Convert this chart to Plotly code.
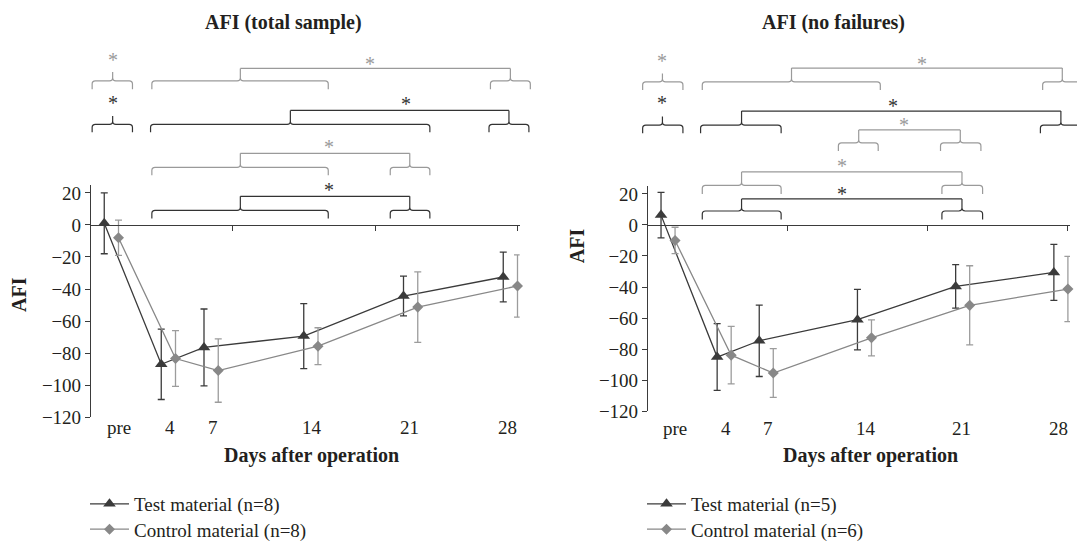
import plotly.graph_objects as go

W, H = 1077, 554
FONT = "Liberation Serif"
TXT = "#231f20"
DARK = "#3b3b3b"
GRAY = "#888888"
GRAY_ERR = "#9c9c9c"
BR_GRAY = "#9a9a9a"
BR_DARK = "#333333"

# ---------------- data ----------------
days = [0, 4, 7, 14, 21, 28]
tick_labels = ["pre", "4", "7", "14", "21", "28"]
label_pos = [0, 3.6, 6.6, 13.6, 20.4, 27.3]
test_shift = -1          # test group plotted one day left of control
y_ticks = [-120, -100, -80, -60, -40, -20, 0, 20]

# AFI (total sample)
test_total_mean = [1, -87, -76.5, -69.4, -44.4, -32.5]
test_total_err = [19, 22, 24, 20.3, 12.4, 15.5]
ctrl_total_mean = [-8, -83.4, -90.9, -75.7, -51.3, -38.1]
ctrl_total_err = [11, 17.4, 19.8, 11.5, 22, 19.4]

# AFI (no failures)
test_nf_mean = [6.3, -85.1, -74.6, -61, -39.6, -30.6]
test_nf_err = [14.7, 21.5, 23, 19.5, 14, 18]
ctrl_nf_mean = [-10, -83.9, -95.4, -72.7, -51.8, -41.3]
ctrl_nf_err = [8.5, 18.5, 15.7, 11.6, 25.5, 21]

# significance brackets: (colour, horizontal y px, leg-bottom y px, notch top y px,
#                          [(x0, x1, peak) in days], star (day, y px))
brackets_total = [
    ("g", 80.7, 89.3, 71.7, [(-1.85, 0.98, -0.41)], (-0.41, 55)),
    ("g", 80.7, 89.3, 68.0, [(2.34, 14.72, 8.55), (26.1, 28.9, 27.5)], (17.65, 59)),
    ("k", 125.3, 133.3, 116.7, [(-1.85, 0.98, -0.41)], (-0.41, 99)),
    ("k", 125.3, 133.3, 111.0, [(2.25, 21.85, 12.06), (26.0, 28.8, 27.4)], (20.2, 100)),
    ("g", 169.3, 177.3, 155.0, [(2.34, 14.72, 8.55), (19.07, 21.85, 20.44)], (14.8, 144)),
    ("k", 213.3, 221.7, 199.0, [(2.34, 14.72, 8.55), (19.07, 21.85, 20.44)], (14.8, 188.3)),
]
brackets_nf = [
    ("g", 81.7, 90.0, 73.3, [(-2.31, 0.56, -0.9)], (-0.9, 56)),
    ("g", 81.7, 90.0, 67.7, [(1.94, 14.63, 8.3), (26.2, 29.0, 27.6)], (17.58, 59.3)),
    ("k", 126.0, 134.3, 117.3, [(-2.31, 0.56, -0.9)], (-0.9, 99)),
    ("k", 126.0, 134.3, 111.7, [(1.82, 7.56, 4.74), (26.04, 28.9, 27.5)], (15.54, 102.7)),
    ("g", 144.3, 152.7, 131.0, [(11.64, 14.48, 13.09), (18.92, 21.8, 20.33)], (16.3, 122.3)),
    ("g", 187.7, 196.7, 174.0, [(1.94, 7.56, 4.74), (19.02, 21.92, 20.45)], (11.9, 164.3)),
    ("k", 214.0, 222.7, 201.7, [(1.94, 7.56, 4.74), (19.02, 21.92, 20.45)], (11.9, 192.3)),
]

panels = [
    dict(title="AFI (total sample)", tm=test_total_mean, te=test_total_err,
         cm=ctrl_total_mean, ce=ctrl_total_err, nt=8, nc=8, br=brackets_total,
         x0px=90, ppd=14.25, top=187.3, bot=425.1, title_x=283, ytitle=(19, 300),
         xtitle_x=311, leg_x=85, br_dom=(0, 548), lab_y=436),
    dict(title="AFI (no failures)", tm=test_nf_mean, te=test_nf_err,
         cm=ctrl_nf_mean, ce=ctrl_nf_err, nt=5, nc=6, br=brackets_nf,
         x0px=647, ppd=14.03, top=188.5, bot=419.1, title_x=833, ytitle=(577, 250),
         xtitle_x=870, leg_x=642, br_dom=(560, 1077), lab_y=437),
]

XMIN, XMAX = -2, 28.15
YMIN, YMAX = -120, 25


def py(p):
    return 1 - p / H


fig = go.Figure()
layout = dict(width=W, height=H, margin=dict(l=0, r=0, t=0, b=0),
              paper_bgcolor="white", plot_bgcolor="rgba(0,0,0,0)",
              font=dict(family=FONT, size=19, color=TXT), showlegend=True)
shapes, annotations = [], []

for i, P in enumerate(panels):
    k = i + 1
    xa = "x" if k == 1 else f"x{k}"
    ya = "y" if k == 1 else f"y{k}"
    xbr = f"x{k + 4}"
    xdom = (P["x0px"] / W, (P["x0px"] + (XMAX - XMIN) * P["ppd"]) / W)
    ydom = (py(P["bot"]), py(P["top"]))
    zero_pos = ydom[0] + (0 - YMIN) / (YMAX - YMIN) * (ydom[1] - ydom[0])

    test_x = [d + test_shift for d in days]
    fig.add_trace(go.Scatter(
        x=test_x, y=P["tm"], xaxis=xa, yaxis=ya, mode="lines+markers",
        name=f"Test material (n={P['nt']})", legend="legend" if k == 1 else "legend3",
        line=dict(color=DARK, width=1.3),
        marker=dict(symbol="triangle-up", size=11, color=DARK),
        error_y=dict(type="data", array=P["te"], color=DARK, thickness=1.3, width=3.5),
        cliponaxis=False))
    fig.add_trace(go.Scatter(
        x=days, y=P["cm"], xaxis=xa, yaxis=ya, mode="lines+markers",
        name=f"Control material (n={P['nc']})", legend="legend2" if k == 1 else "legend4",
        line=dict(color=GRAY, width=1.3),
        marker=dict(symbol="diamond", size=8.5, color=GRAY),
        error_y=dict(type="data", array=P["ce"], color=GRAY_ERR, thickness=1.3, width=3.5),
        cliponaxis=False))

    axname = "xaxis" if k == 1 else f"xaxis{k}"
    yname = "yaxis" if k == 1 else f"yaxis{k}"
    layout[axname] = dict(domain=xdom, range=[XMIN, XMAX], anchor="free", position=zero_pos,
                          showline=True, linecolor=DARK, linewidth=1.2, showgrid=False,
                          zeroline=False, ticks="outside", ticklen=5, tickcolor=DARK,
                          tickvals=[-2, 8, 18, 28], showticklabels=False)
    layout[yname] = dict(domain=ydom, range=[YMIN, YMAX], anchor="free", position=xdom[0],
                         showline=True, linecolor=DARK, linewidth=1.2, showgrid=False,
                         zeroline=False, ticks="outside", ticklen=5, tickcolor=DARK,
                         tickvals=y_ticks, tickfont=dict(family=FONT, size=19, color=TXT))
    b0, b1 = P["br_dom"]
    layout[f"xaxis{k + 4}"] = dict(domain=(b0 / W, b1 / W), anchor=ya, visible=False,
                                   range=[XMIN - (P["x0px"] - b0) / P["ppd"],
                                          XMIN + (b1 - P["x0px"]) / P["ppd"]])

    # category labels below the plot
    for lab, pos in zip(tick_labels, label_pos):
        annotations.append(dict(text=lab, xref=xa, yref="paper", x=pos, y=py(P["lab_y"]),
                                showarrow=False, xanchor="center", yanchor="middle",
                                font=dict(family=FONT, size=19, color=TXT)))

    # titles
    annotations.append(dict(text=f"<b>{P['title']}</b>", xref="paper", yref="paper",
                            x=P["title_x"] / W, y=py(21.5), showarrow=False,
                            xanchor="center", yanchor="middle",
                            font=dict(family=FONT, size=20, color=TXT)))
    annotations.append(dict(text="<b>AFI</b>", xref="paper", yref="paper",
                            x=P["ytitle"][0] / W, y=py(P["ytitle"][1]), showarrow=False,
                            textangle=-90, xanchor="center", yanchor="middle",
                            font=dict(family=FONT, size=20, color=TXT)))
    annotations.append(dict(text="<b>Days after operation</b>", xref="paper", yref="paper",
                            x=P["xtitle_x"] / W, y=py(464), showarrow=False,
                            xanchor="center", yanchor="middle",
                            font=dict(family=FONT, size=20, color=TXT)))

    # brackets
    rx = 3.2 / P["ppd"]
    ry = 3.2 / H
    for col, yh, yb, ytop, brs, star in P["br"]:
        c = BR_GRAY if col == "g" else BR_DARK
        Yh, Yb, Yt = py(yh), py(yb), py(ytop)
        for x0, x1, xp in brs:
            path = (f"M{x0},{Yb} L{x0},{Yh - ry} Q{x0},{Yh} {x0 + rx},{Yh} "
                    f"L{xp - rx},{Yh} Q{xp},{Yh} {xp},{Yh + ry} L{xp},{Yt} "
                    f"M{xp},{Yh + ry} Q{xp},{Yh} {xp + rx},{Yh} "
                    f"L{x1 - rx},{Yh} Q{x1},{Yh} {x1},{Yh - ry} L{x1},{Yb}")
            shapes.append(dict(type="path", path=path, xref=xbr, yref="paper",
                               line=dict(color=c, width=1.2)))
        if len(brs) > 1:
            shapes.append(dict(type="line", xref=xbr, yref="paper", x0=brs[0][2], x1=brs[-1][2],
                               y0=Yt, y1=Yt, line=dict(color=c, width=1.2)))
        annotations.append(dict(text="*", xref=xbr, yref="paper", x=star[0], y=py(star[1] + 4),
                                showarrow=False, xanchor="center", yanchor="middle",
                                font=dict(family=FONT, size=20, color=c)))

    # legends
    for j, lg in enumerate(["legend", "legend2"] if k == 1 else ["legend3", "legend4"]):
        layout[lg] = dict(x=P["leg_x"] / W, y=py(514 + 26 * j), xanchor="left", yanchor="middle",
                          bgcolor="rgba(0,0,0,0)", borderwidth=0, itemwidth=39,
                          font=dict(family=FONT, size=19, color=TXT))

layout["shapes"] = shapes
layout["annotations"] = annotations
fig.update_layout(**layout)
fig.write_html("out.html", config={"displayModeBar": False},
               post_script="document.body.style.margin='0';")
